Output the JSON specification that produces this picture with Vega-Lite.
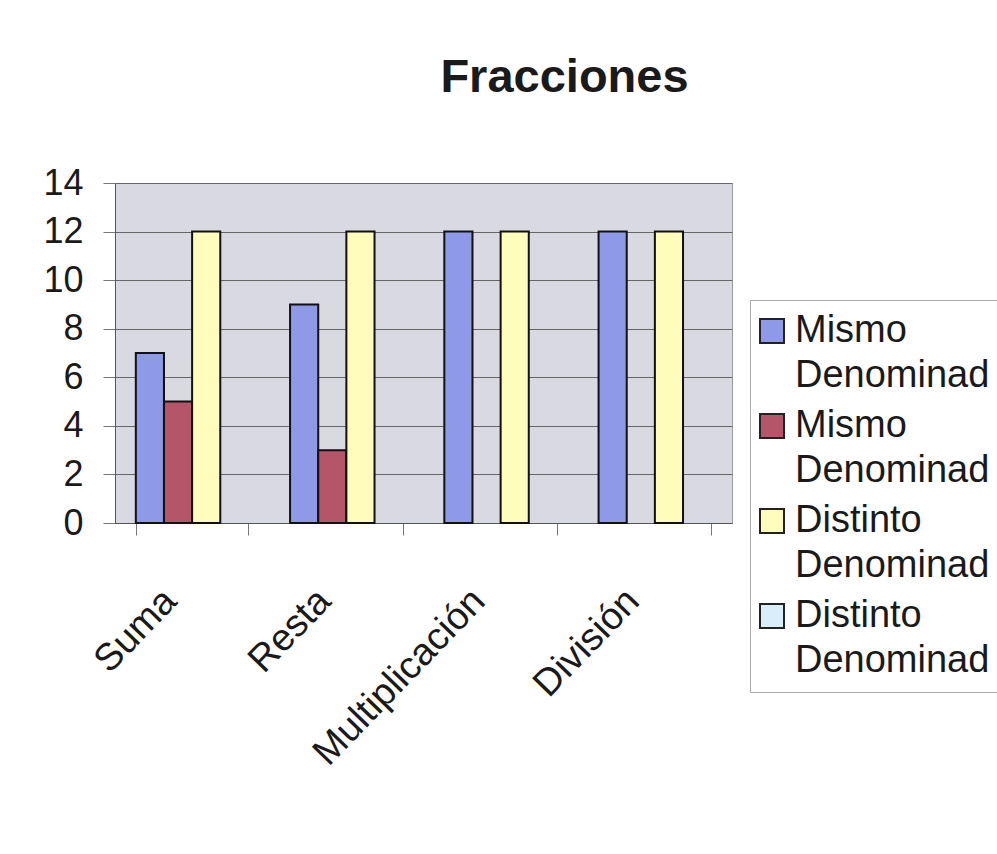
{
  "$schema": "https://vega.github.io/schema/vega-lite/v6.json",
  "autosize": {"type": "none"},
  "padding": {"left": 115, "top": 183, "right": 265, "bottom": 331},
  "width": 617,
  "height": 340,
  "background": "white",
  "title": {
    "text": "Fracciones",
    "font": "Liberation Sans",
    "fontSize": 47,
    "fontWeight": "bold",
    "color": "#1a1a1a",
    "anchor": "middle",
    "frame": "group",
    "dx": 141,
    "baseline": "alphabetic",
    "offset": 26
  },
  "data": {
    "values": [
      {"operacion": "Suma", "serie": "Mismo Denominad|1", "valor": 7},
      {"operacion": "Suma", "serie": "Mismo Denominad|2", "valor": 5},
      {"operacion": "Suma", "serie": "Distinto Denominad|3", "valor": 12},
      {"operacion": "Suma", "serie": "Distinto Denominad|4", "valor": 0},
      {"operacion": "Resta", "serie": "Mismo Denominad|1", "valor": 9},
      {"operacion": "Resta", "serie": "Mismo Denominad|2", "valor": 3},
      {"operacion": "Resta", "serie": "Distinto Denominad|3", "valor": 12},
      {"operacion": "Resta", "serie": "Distinto Denominad|4", "valor": 0},
      {"operacion": "Multiplicación", "serie": "Mismo Denominad|1", "valor": 12},
      {"operacion": "Multiplicación", "serie": "Mismo Denominad|2", "valor": 0},
      {"operacion": "Multiplicación", "serie": "Distinto Denominad|3", "valor": 12},
      {"operacion": "Multiplicación", "serie": "Distinto Denominad|4", "valor": 0},
      {"operacion": "División", "serie": "Mismo Denominad|1", "valor": 12},
      {"operacion": "División", "serie": "Mismo Denominad|2", "valor": 0},
      {"operacion": "División", "serie": "Distinto Denominad|3", "valor": 12},
      {"operacion": "División", "serie": "Distinto Denominad|4", "valor": 0}
    ]
  },
  "mark": {"type": "bar", "stroke": "#111", "strokeWidth": 2},
  "encoding": {
    "x": {
      "field": "operacion",
      "type": "nominal",
      "sort": ["Suma", "Resta", "Multiplicación", "División"],
      "scale": {"paddingInner": 0.27, "paddingOuter": 0.135},
      "axis": {
        "title": null,
        "labelAngle": -46,
        "labelAlign": "right",
        "labelBaseline": "middle",
        "labelFont": "Liberation Sans",
        "labelFontSize": 38,
        "labelColor": "#1a1a1a",
        "labelLimit": 0,
        "labelOffset": -22,
        "labelPadding": 60,
        "labelOverlap": false,
        "tickBand": "extent",
        "tickSize": 12,
        "tickColor": "#777",
        "domainColor": "#555",
        "grid": false
      }
    },
    "xOffset": {
      "field": "serie",
      "type": "nominal",
      "sort": ["Mismo Denominad|1", "Mismo Denominad|2", "Distinto Denominad|3", "Distinto Denominad|4"],
      "scale": {"paddingInner": 0, "paddingOuter": 0}
    },
    "y": {
      "field": "valor",
      "type": "quantitative",
      "scale": {"domain": [0, 14], "nice": false},
      "axis": {
        "title": null,
        "values": [0, 2, 4, 6, 8, 10, 12, 14],
        "labelFont": "Liberation Sans",
        "labelFontSize": 36,
        "labelColor": "#1a1a1a",
        "labelPadding": 20,
        "tickSize": 12,
        "tickColor": "#777",
        "domainColor": "#555",
        "gridColor": "#666",
        "gridWidth": 1
      }
    },
    "color": {
      "field": "serie",
      "type": "nominal",
      "scale": {
        "domain": ["Mismo Denominad|1", "Mismo Denominad|2", "Distinto Denominad|3", "Distinto Denominad|4"],
        "range": ["#8e9ae8", "#b4556a", "#fffcbc", "#d9eefa"]
      },
      "legend": {
        "title": null,
        "orient": "none",
        "legendX": 635,
        "legendY": 117,
        "direction": "vertical",
        "symbolType": "square",
        "symbolSize": 576,
        "symbolOffset": -9,
        "symbolStrokeColor": "#222",
        "symbolStrokeWidth": 2,
        "labelFont": "Liberation Sans",
        "labelFontSize": 38,
        "labelColor": "#1a1a1a",
        "labelLimit": 0,
        "labelOffset": 4,
        "labelExpr": "split(split(datum.label, '|')[0], ' ')",
        "rowPadding": 12,
        "padding": 12,
        "strokeColor": "#aaa",
        "fillColor": "white",
        "encode": {
          "labels": {"update": {"lineHeight": {"value": 45}}}
        }
      }
    },
    "strokeOpacity": {
      "condition": {"test": "datum.valor > 0", "value": 1},
      "value": 0
    }
  },
  "config": {
    "view": {"fill": "#d9dae1", "stroke": "#999"},
    "axis": {"gridColor": "#666"}
  }
}
